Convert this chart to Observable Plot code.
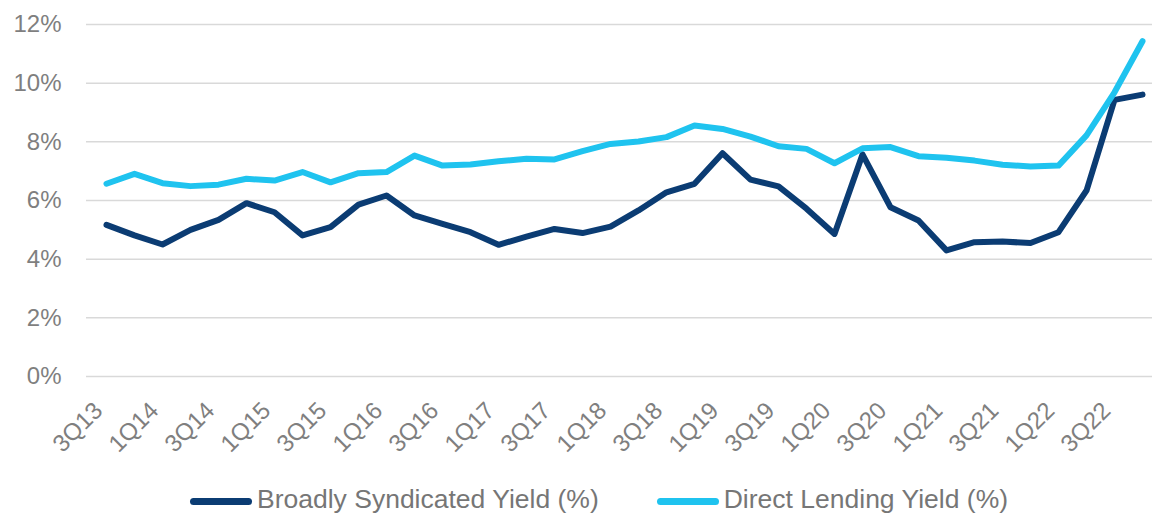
<!DOCTYPE html>
<html>
<head>
<meta charset="utf-8">
<script src="https://cdn.jsdelivr.net/npm/d3@7"></script>
<script src="https://cdn.jsdelivr.net/npm/@observablehq/plot@0.6"></script>
<style>
  html, body { margin: 0; padding: 0; background: #fff; }
  body { width: 1152px; height: 513px; overflow: hidden; font-family: "Liberation Sans", Arial, sans-serif; }
  #legend { display: flex; align-items: center; height: 36px; padding-top: 11px; padding-left: 190px; color: #767676; font-size: 26.5px; }
  .item { display: flex; align-items: center; margin-right: 58px; }
  .sw { width: 62px; height: 7px; border-radius: 3.5px; margin-right: 5px; position: relative; top: 2px; }
</style>
</head>
<body>
<div id="chart"></div>
<div id="legend"></div>
<script>
const quarters = [
  "3Q13","4Q13",
  "1Q14","2Q14","3Q14","4Q14",
  "1Q15","2Q15","3Q15","4Q15",
  "1Q16","2Q16","3Q16","4Q16",
  "1Q17","2Q17","3Q17","4Q17",
  "1Q18","2Q18","3Q18","4Q18",
  "1Q19","2Q19","3Q19","4Q19",
  "1Q20","2Q20","3Q20","4Q20",
  "1Q21","2Q21","3Q21","4Q21",
  "1Q22","2Q22","3Q22","4Q22"
];
const tickLabels = ["3Q13","1Q14","3Q14","1Q15","3Q15","1Q16","3Q16","1Q17","3Q17","1Q18","3Q18","1Q19","3Q19","1Q20","3Q20","1Q21","3Q21","1Q22","3Q22"];
const yTicks = [0, 2, 4, 6, 8, 10, 12];

const broadlySyndicated = [
  5.17, 4.81, 4.50, 5.00, 5.34, 5.91, 5.60, 4.81, 5.09, 5.86,
  6.17, 5.49, 5.20, 4.92, 4.49, 4.77, 5.03, 4.89, 5.11, 5.66,
  6.28, 6.57, 7.61, 6.71, 6.48, 5.72, 4.86, 7.57, 5.77, 5.32,
  4.30, 4.58, 4.60, 4.55, 4.92, 6.34, 9.43, 9.61
];
const directLending = [
  6.57, 6.91, 6.59, 6.49, 6.54, 6.74, 6.68, 6.97, 6.62, 6.93,
  6.97, 7.53, 7.19, 7.23, 7.34, 7.42, 7.40, 7.68, 7.93, 8.01,
  8.16, 8.56, 8.44, 8.18, 7.85, 7.76, 7.27, 7.78, 7.82, 7.51,
  7.46, 7.36, 7.22, 7.16, 7.19, 8.22, 9.69, 11.43
];
const seriesNames = ["Broadly Syndicated Yield (%)", "Direct Lending Yield (%)"];
const seriesColors = ["#0B3C73", "#1FC3EF"];

const bsData = quarters.map((q, i) => ({q, v: broadlySyndicated[i]}));
const dlData = quarters.map((q, i) => ({q, v: directLending[i]}));

const chart = Plot.plot({
  width: 1152,
  height: 470,
  marginLeft: 86,
  marginRight: -10,
  marginTop: 24,
  marginBottom: 94,
  style: { fontFamily: '"Liberation Sans", Arial, sans-serif', background: "#fff" },
  x: { type: "point", domain: quarters, padding: 0.5 },
  y: { domain: [0, 12] },
  marks: [
    Plot.ruleY(yTicks, { stroke: "#d9d9d9", strokeWidth: 1.5 }),
    Plot.axisY({ ticks: yTicks, tickFormat: d => d + "%", tickSize: 0, tickPadding: 25, fontSize: 24, fill: "#7f7f7f", label: null }),
    Plot.axisX({ ticks: tickLabels, tickRotate: -45, tickSize: 0, tickPadding: 30, dx: -8, fontSize: 24, fill: "#7f7f7f", label: null }),
    Plot.line(bsData, { x: "q", y: "v", stroke: seriesColors[0], strokeWidth: 6, strokeLinejoin: "round", strokeLinecap: "round" }),
    Plot.line(dlData, { x: "q", y: "v", stroke: seriesColors[1], strokeWidth: 6, strokeLinejoin: "round", strokeLinecap: "round" })
  ]
});
document.getElementById("chart").appendChild(chart);

const legend = document.getElementById("legend");
seriesNames.forEach((name, i) => {
  const item = document.createElement("div");
  item.className = "item";
  const sw = document.createElement("span");
  sw.className = "sw";
  sw.style.background = seriesColors[i];
  const label = document.createElement("span");
  label.textContent = name;
  item.appendChild(sw);
  item.appendChild(label);
  legend.appendChild(item);
});
</script>
</body>
</html>
